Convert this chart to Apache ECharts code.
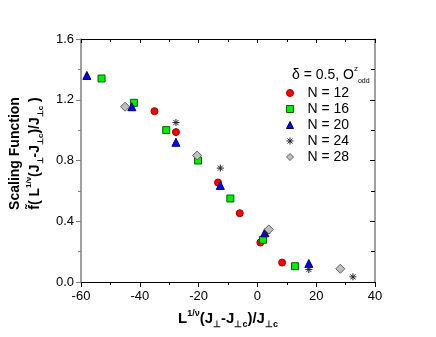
<!DOCTYPE html>
<html>
<head>
<meta charset="utf-8">
<script src="https://cdn.jsdelivr.net/npm/echarts@6/dist/echarts.min.js"></script>
<style>
  html, body { margin: 0; padding: 0; background: #fff; }
  #chart { width: 436px; height: 337px; }
</style>
</head>
<body>
<div id="chart"></div>
<script>
// [x, y] points
const n12 = [[-35, 1.125], [-27.7, 0.987], [-13.4, 0.655], [-6, 0.453], [1, 0.26], [8.4, 0.128]];
const n16 = [[-53, 1.34], [-42, 1.18], [-31, 1.0], [-20.2, 0.8], [-9.2, 0.55], [1.9, 0.278], [12.8, 0.104]];
const n20 = [[-58, 1.36], [-42.7, 1.154], [-27.7, 0.92], [-12.6, 0.636], [2.5, 0.324], [17.5, 0.122]];
const n24 = [[-27.7, 1.05], [-12.6, 0.75], [3.2, 0.32], [17.5, 0.082], [32.5, 0.034]];
const n28 = [[-45, 1.154], [-20.5, 0.833], [3.9, 0.346], [28.2, 0.087]];

const seriesNames = ['N = 12', 'N = 16', 'N = 20', 'N = 24', 'N = 28'];

// asterisk marker: + and x overlaid
const star = 'path://M0,-5L0,5M-5,0L5,0M-3.6,-3.6L3.6,3.6M-3.6,3.6L3.6,-3.6';

const fontFam = '"Liberation Sans", Arial, sans-serif';

const styles = [
  { symbol: 'circle', size: 7, color: '#ff0000', border: '#a00000' },
  { symbol: 'rect', size: 7, color: '#00ee00', border: '#006000' },
  { symbol: 'triangle', size: 8, color: '#0000ff', border: '#000060' },
  { symbol: star, size: 7, color: 'none', border: '#222222' },
  { symbol: 'diamond', size: 9, color: '#c0c0c0', border: '#606060' }
];

const datasets = [n12, n16, n20, n24, n28];

const seriesList = datasets.map(function (d, i) {
  const s = styles[i];
  return {
    name: seriesNames[i],
    type: 'scatter',
    data: d,
    symbol: s.symbol,
    symbolSize: s.size,
    itemStyle: {
      color: s.color,
      borderColor: s.border,
      borderWidth: 1,
      opacity: 1
    }
  };
});

const legendData = seriesNames.map(function (n, i) {
  return {
    name: n,
    icon: styles[i].symbol,
    itemStyle: { color: styles[i].color, borderColor: styles[i].border, borderWidth: 1 }
  };
});

function richSet(big, small) {
  return {
    b: { fontFamily: fontFam, fontWeight: 'bold', fontSize: big, lineHeight: 20, color: '#000' },
    sup: { fontFamily: fontFam, fontWeight: 'bold', fontSize: small, lineHeight: 20, verticalAlign: 'top', color: '#000' },
    sub: { fontFamily: fontFam, fontWeight: 'bold', fontSize: small, lineHeight: 10, verticalAlign: 'bottom', color: '#000' }
  };
}

const option = {
  animation: false,
  backgroundColor: '#fff',
  grid: { left: 77, right: 61, top: 39, bottom: 55 },
  title: {
    text: 'δ = 0.5, O{sup|z}{sub|odd}',
    left: 287,
    top: 60,
    textStyle: {
      fontFamily: fontFam,
      fontSize: 14,
      fontWeight: 'normal',
      color: '#000',
      rich: {
        sup: { fontFamily: fontFam, fontSize: 8, verticalAlign: 'top', lineHeight: 20 },
        sub: { fontFamily: fontFam, fontSize: 7, verticalAlign: 'bottom', lineHeight: 8 }
      }
    }
  },
  legend: {
    orient: 'vertical',
    left: 279,
    top: 81,
    itemWidth: 7,
    itemHeight: 7,
    itemGap: 2,
    textStyle: {
      fontFamily: fontFam,
      fontSize: 14,
      color: '#000',
      padding: [0, 0, 0, 9]
    },
    data: legendData
  },
  xAxis: [
    {
      type: 'value',
      min: -60,
      max: 40,
      interval: 20,
      position: 'bottom',
      name: '{b|L}{sup|1/ν}{b|(J}{sub|⊥}{b|-J}{sub|⊥c}{b|)/J}{sub|⊥c}',
      nameLocation: 'middle',
      nameGap: 27,
      nameTextStyle: { rich: richSet(15, 9) },
      axisLine: { onZero: false, lineStyle: { color: '#000', width: 1 } },
      axisTick: { inside: false, length: 5, lineStyle: { color: '#000' } },
      minorTick: { show: true, splitNumber: 2, length: 3, lineStyle: { color: '#000' } },
      axisLabel: { fontFamily: fontFam, fontSize: 13, color: '#000', margin: 8 },
      splitLine: { show: false }
    },
    {
      type: 'value',
      min: -60,
      max: 40,
      interval: 20,
      position: 'top',
      axisLine: { show: true, onZero: false, lineStyle: { color: '#000', width: 1 } },
      axisTick: { inside: true, length: 4, lineStyle: { color: '#000' } },
      minorTick: { show: true, splitNumber: 2, length: 3, lineStyle: { color: '#000' } },
      axisLabel: { show: false },
      splitLine: { show: false }
    }
  ],
  yAxis: [
    {
      type: 'value',
      min: 0,
      max: 1.6,
      interval: 0.4,
      position: 'left',
      name: '{b|Scaling Function}\n{b|f̃( L}{sup|1/ν}{b|(J}{sub|⊥}{b|-J}{sub|⊥c}{b|)/J}{sub|⊥c}{b| )}',
      nameLocation: 'middle',
      nameRotate: 90,
      nameGap: 19,
      nameTextStyle: { rich: richSet(14, 8), padding: [0, 0, 0, 14] },
      axisLine: { onZero: false, lineStyle: { color: '#808080', width: 1.5 } },
      axisTick: { inside: false, length: 5, lineStyle: { color: '#808080' } },
      minorTick: { show: true, splitNumber: 2, length: 3, lineStyle: { color: '#808080' } },
      axisLabel: {
        fontFamily: fontFam, fontSize: 13, color: '#000', margin: 7,
        formatter: function (v) { return v.toFixed(1); }
      },
      splitLine: { show: false }
    },
    {
      type: 'value',
      min: 0,
      max: 1.6,
      interval: 0.4,
      position: 'right',
      axisLine: { show: true, onZero: false, lineStyle: { color: '#808080', width: 1.5 } },
      axisTick: { inside: true, length: 5, lineStyle: { color: '#000' } },
      minorTick: { show: true, splitNumber: 2, length: 4, lineStyle: { color: '#000' } },
      axisLabel: { show: false },
      splitLine: { show: false }
    }
  ],
  series: seriesList
};

const myChart = echarts.init(document.getElementById('chart'));
myChart.setOption(option);
</script>
</body>
</html>
